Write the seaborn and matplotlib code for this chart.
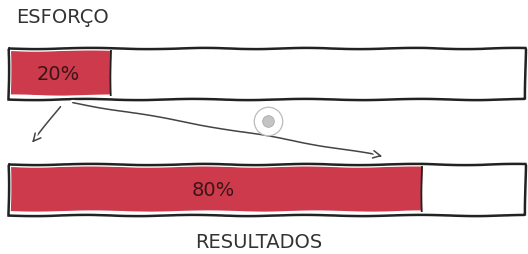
import matplotlib
matplotlib.use('Agg')
import matplotlib.pyplot as plt
import seaborn as sns

# Pareto 80/20: esforço vs resultados
categorias = ['ESFORÇO', 'RESULTADOS']
valores = [20, 80]
totais = [100, 100]
rotulos = ['20%', '80%']

vermelho = '#cc3a4c'

sns.set_theme(style='white')

with plt.xkcd(scale=0.6, length=120, randomness=2):
    plt.rcParams['font.family'] = ['DejaVu Sans']
    fig = plt.figure(figsize=(5.28, 2.55), dpi=100)
    ax = fig.add_axes([0, 0, 1, 1])

    # preenchimento vermelho
    sns.barplot(x=valores, y=categorias, color=vermelho, edgecolor='none',
                linewidth=0, saturation=1, width=0.38, ax=ax)
    # traço no fim do preenchimento
    ax.vlines(valores, [i - 0.2 for i in range(len(valores))],
              [i + 0.2 for i in range(len(valores))], color='#222222', lw=1.3)
    # caixa vazia (100%) por cima
    sns.barplot(x=totais, y=categorias, color='#222222', fill=False,
                linewidth=1.8, saturation=1, width=0.44, ax=ax)

    ax.set_xlim(-1.55, 100.6)
    ax.set_ylim(1.56, -0.64)
    ax.axis('off')

    # rótulos dentro das barras
    for i, (v, r) in enumerate(zip(valores, rotulos)):
        ax.text(v / 2 - 0.3, i, r, ha='center', va='center', fontsize=14,
                color='#3a1518', path_effects=[])

    # títulos
    ax.text(1.5, -0.49, categorias[0], ha='left', va='center', fontsize=14,
            color='#333333', path_effects=[])
    ax.text(48.5, 1.45, categorias[1], ha='center', va='center', fontsize=14,
            color='#333333', path_effects=[])

    # setas
    seta = dict(arrowstyle='->', color='#444444', lw=1.1)
    ax.annotate('', xy=(4.3, 0.62), xytext=(10.5, 0.27), arrowprops=seta)
    ax.annotate('', xy=(73, 0.72), xytext=(12, 0.25), arrowprops=seta)

    # pequeno círculo
    ax.scatter([50.3], [0.41], s=420, facecolor='white', edgecolor='#bbbbbb',
               linewidth=0.9, zorder=5)
    ax.scatter([50.3], [0.41], s=70, color='#c4c4c4', edgecolor='#aaaaaa',
               linewidth=0.6, zorder=6)

    fig.savefig('out.png', dpi=100)
